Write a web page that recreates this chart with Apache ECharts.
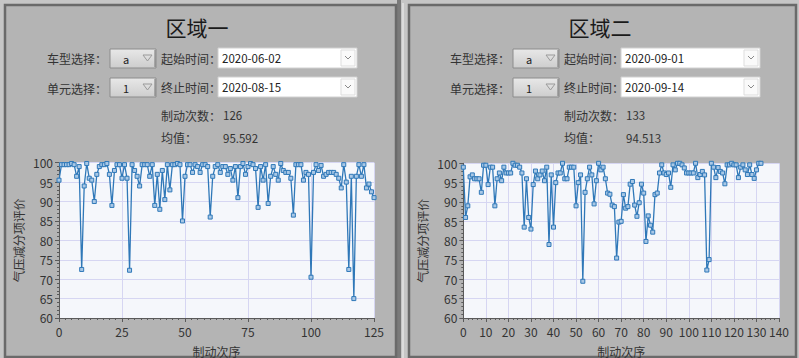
<!DOCTYPE html>
<html>
<head>
<meta charset="utf-8">
<script src="https://cdn.jsdelivr.net/npm/echarts@6/dist/echarts.min.js"></script>
<style>
html,body{margin:0;padding:0;background:#c6c6c6;}
#main{width:799px;height:358px;}
</style>
</head>
<body>
<div id="main"></div>
<script>
// ---- data ----
const panelTitles = ['区域一', '区域二'];
const carType = ['a', 'a'];
const unitSel = ['1', '1'];
const startDates = ['2020-06-02', '2020-09-01'];
const endDates = ['2020-08-15', '2020-09-14'];
const brakeCounts = ['126', '133'];
const meanValues = ['95.592', '94.513'];
const yTicks = [60, 100, 5];
const xMax = [125, 140];
const xInterval = [25, 10];

const series1 = [95.5,99.5,99.5,99.5,99.5,99.8,99.5,96.5,99,72.5,
94,99.8,96,95.5,90,97,99,99.5,99.5,99.8,
97,89,98,99.5,99.5,96,99.5,96,72.3,99.5,
98,96.5,94,99.5,99.5,99.5,96.5,99.5,89,97,
88,98,90.5,99.5,93,99.5,99.5,99.8,99.5,85,
96.5,99.5,99.5,97.5,99.5,99,97.5,99.5,99.5,99,
86,96.5,99,99.5,97.5,99,99,97,98.5,95.5,
99,91,99,99.8,97,99,99.8,99.5,98.5,88.5,
99,95.5,99.5,89.5,96.5,99,97,95.5,99.8,98,
97.5,97.5,96,86.5,99.5,99.5,99.5,95.5,97.5,97,
70.5,97.5,99.5,98,99.3,96.5,97,97.5,97.5,97.5,
97,96,93.5,99.5,95,72.5,96.5,65,96.5,99.5,
96.5,99.5,93.5,94.5,92.5,91];

const series2 = [99,86,89,96.5,97,96,96,96,92.5,99.5,
99.5,94.5,99,99,89,96,97.5,95.5,99,97.5,
97.5,97.5,100,99.5,99.5,99,97.5,83.5,96,86,
83,94.5,98,96,97,98,95.5,99,79,97,
83.5,95,97.5,97.5,100,96,96,99,99,99,
89,95,97,69.5,92.5,96,99,97,89.5,95.5,
100,98.3,99,96,92.3,92,89.2,88.8,75.5,84.8,
85,91.9,88.4,88.8,94.6,95.3,89.2,86.3,89.8,94.6,
92.3,79.8,86.4,84,82.2,91.9,92.3,97.5,99.6,97.5,
97.1,97.5,93.8,99.6,98.3,100,100,99.6,98.8,97.5,
97.5,97.5,97.5,100,96.3,97.1,97.9,97,72.4,75.1,
100,99,96.3,98.9,97.9,97.5,94.7,99.6,99.6,100,
99.6,99.6,96.3,99,99.6,98.3,97.1,99.6,97.1,96.1,
98.3,100,100];

const allSeries = [series1, series2];

// ---- layout ----
const FONT = '"Noto Sans CJK SC","Noto Sans",sans-serif';
const panels = [{x:5, w:391, dx:0}, {x:409, w:387, dx:403}];
const grids = [
  {left:59, top:162.7, width:315, height:160.6},
  {left:463.3, top:163.3, width:315.7, height:160.7}
];

function txt(x, y, s, size, align, color){
  return {type:'text', z:5, style:{text:s, x:x, y:y, font: size + 'px ' + FONT,
    fill: color || '#2a2a2a', textAlign: align || 'left', textVerticalAlign:'middle',
    align: align || 'left', verticalAlign:'middle'}};
}

const graphics = [];
// separator between panels
graphics.push({type:'rect', z:-2, shape:{x:397,y:0,width:4,height:358}, style:{fill:'#7a7a7a'}});
graphics.push({type:'rect', z:-2, shape:{x:402,y:3,width:2,height:355}, style:{fill:'#dcdcdc'}});

panels.forEach((p, i) => {
  const dx = p.dx;
  graphics.push({type:'rect', z:-1, shape:{x:p.x, y:5, width:p.w, height:352},
    style:{fill:'#b4b4b4', stroke:'#6a6a6a', lineWidth:2.5}});
  graphics.push(txt(197 + dx, 27, panelTitles[i], 21, 'center', '#1a1a1a'));
  // labels
  graphics.push(txt(107 + dx, 58.5, '车型选择：', 12, 'right', '#333'));
  graphics.push(txt(107 + dx, 88, '单元选择：', 12, 'right', '#333'));
  graphics.push(txt(161 + dx, 58.5, '起始时间：', 12, 'left', '#333'));
  graphics.push(txt(161 + dx, 87, '终止时间：', 12, 'left', '#333'));
  graphics.push(txt(161 + dx, 115, '制动次数：', 12, 'left', '#333'));
  graphics.push(txt(161 + dx, 137.5, '均值：', 12, 'left', '#333'));
  graphics.push(txt(223 + dx, 115, brakeCounts[i], 11.5, 'left', '#333'));
  graphics.push(txt(223 + dx, 137.5, meanValues[i], 11.5, 'left', '#333'));
  // dropdown buttons
  [[49, carType[i]], [78, unitSel[i]]].forEach(([y, v]) => {
    graphics.push({type:'rect', z:2, shape:{x:110+dx, y:y, width:46, height:19},
      style:{fill:{type:'linear',x:0,y:0,x2:0,y2:1,colorStops:[{offset:0,color:'#e8e8e8'},{offset:1,color:'#cdcdcd'}]},
      stroke:'#8c8c8c', lineWidth:1}});
    graphics.push(txt(126+dx, y+9.5, v, 11, 'center', '#222'));
    graphics.push({type:'polygon', z:3, shape:{points:[[143+dx,y+6],[152+dx,y+6],[147.5+dx,y+12]]},
      style:{fill:'none', stroke:'#9a9a9a', lineWidth:1}});
    graphics.push({type:'line', z:3, shape:{x1:155+dx,y1:y+1,x2:155+dx,y2:y+18}, style:{stroke:'#777', lineWidth:1}});
  });
  // date boxes
  [[48, startDates[i]], [77, endDates[i]]].forEach(([y, v]) => {
    graphics.push({type:'rect', z:2, shape:{x:218+dx, y:y, width:139, height:20},
      style:{fill:'#ffffff', stroke:'#d0d0d0', lineWidth:1}});
    graphics.push(txt(222+dx, y+10, v, 11.5, 'left', '#222'));
    graphics.push({type:'rect', z:3, shape:{x:341+dx, y:y+2, width:14, height:16},
      style:{fill:'#fafafa', stroke:'#dddddd', lineWidth:1}});
    graphics.push({type:'polyline', z:4, shape:{points:[[345+dx,y+8],[348+dx,y+11],[351+dx,y+8]]},
      style:{fill:'none', stroke:'#8a8a8a', lineWidth:1}});
  });
});

const chart = echarts.init(document.getElementById('main'), null, {renderer:'svg'});

const gridOpts = grids.map(g => Object.assign({show:true, backgroundColor:'#f5f7fb', borderWidth:0, containLabel:false}, g));

const axisCommon = {
  axisLine:{show:true, lineStyle:{color:'#5a5a5a', width:1}},
  axisTick:{show:true, length:4, lineStyle:{color:'#5a5a5a'}},
  splitLine:{show:true, lineStyle:{color:'#d6d6f2', width:1}}
};

const xAxes = [0,1].map(i => Object.assign({}, axisCommon, {
  type:'value', gridIndex:i, min:0, max:xMax[i], interval:xInterval[i],
  minorTick:{show:true, length:2, splitNumber: i===0 ? 10 : 5, lineStyle:{color:'#5a5a5a'}},
  name:'制动次序', nameLocation:'middle', nameGap:27,
  nameTextStyle:{color:'#333', fontSize:12, fontFamily:'Noto Sans CJK SC'},
  axisLabel:{color:'#333', fontSize:12, fontFamily:FONT, margin:7}
}));
const yAxes = [0,1].map(i => Object.assign({}, axisCommon, {
  type:'value', gridIndex:i, min:yTicks[0], max:yTicks[1], interval:yTicks[2],
  minorTick:{show:true, length:2, splitNumber:5, lineStyle:{color:'#5a5a5a'}},
  name:'气压减分项评价', nameLocation:'middle', nameGap:35, nameRotate:90,
  nameTextStyle:{color:'#333', fontSize:12, fontFamily:'Noto Sans CJK SC'},
  axisLabel:{color:'#333', fontSize:12, fontFamily:FONT, margin:6}
}));

const seriesOpts = allSeries.map((arr, i) => ({
  type:'line', xAxisIndex:i, yAxisIndex:i,
  data: arr.map((v, k) => [k, v]),
  symbol:'rect', symbolSize:4, showSymbol:true,
  lineStyle:{color:'#2f78b8', width:1.3},
  itemStyle:{color:'#a9c8e6', borderColor:'#2f78b8', borderWidth:1},
  animation:false
}));

chart.setOption({
  animation:false,
  backgroundColor:'#c6c6c6',
  graphic:{elements:graphics},
  grid:gridOpts,
  xAxis:xAxes,
  yAxis:yAxes,
  series:seriesOpts
});
</script>
</body>
</html>
